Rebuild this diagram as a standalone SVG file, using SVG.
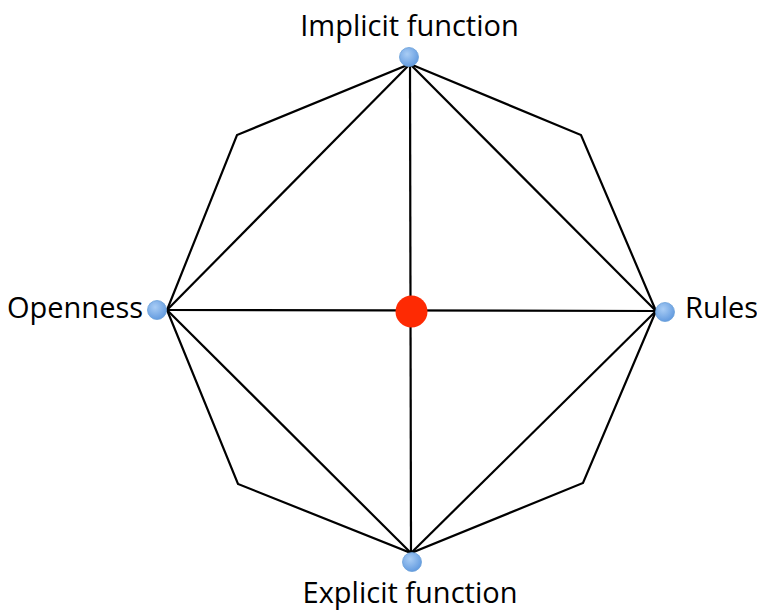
<svg xmlns="http://www.w3.org/2000/svg" width="757" height="612" viewBox="0 0 757 612">
<style>
.e{stroke:#000;stroke-width:2.2;fill:none;stroke-linejoin:miter}
.lbl{font-family:"Open Sans","Noto Sans",sans-serif;font-size:29px;fill:#000}
.bd{fill:url(#bg);stroke:#6a9fd8;stroke-width:0.8}
</style>
<defs>
<radialGradient id="bg" cx="0.4" cy="0.35" r="0.7">
<stop offset="0" stop-color="#a9cdf5"/>
<stop offset="1" stop-color="#5f98de"/>
</radialGradient>
</defs>
<rect width="757" height="612" fill="#fff"/>
<g id="connectors">
<polygon class="e" points="410,64 581,135 656,311 583,483 411,553 238,484 167,310 237,135"/>
<line class="e" x1="410" y1="64" x2="167" y2="310"/>
<line class="e" x1="410" y1="64" x2="656" y2="311"/>
<line class="e" x1="410" y1="64" x2="411" y2="553"/>
<line class="e" x1="167" y1="310" x2="656" y2="311"/>
<line class="e" x1="411" y1="553" x2="167" y2="310"/>
<line class="e" x1="411" y1="553" x2="656" y2="311"/>
</g>
<g id="center"><circle cx="411.5" cy="311.5" r="16" fill="#fe2a03"/></g>
<g id="implicit">
<circle class="bd" cx="409" cy="57" r="9.5"/>
<text class="lbl" x="409.5" y="36" text-anchor="middle">Implicit function</text>
</g>
<g id="openness">
<circle class="bd" cx="157" cy="310" r="9.5"/>
<text class="lbl" x="7" y="318">Openness</text>
</g>
<g id="rules">
<circle class="bd" cx="665" cy="312" r="9.5"/>
<text class="lbl" x="685" y="318">Rules</text>
</g>
<g id="explicit">
<circle class="bd" cx="412" cy="562" r="9.5"/>
<text class="lbl" x="410" y="603" text-anchor="middle">Explicit function</text>
</g>
</svg>
